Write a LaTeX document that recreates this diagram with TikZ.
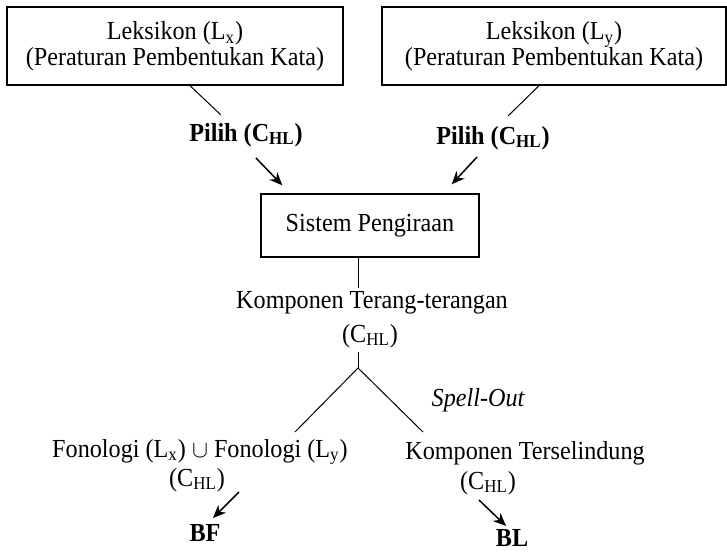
\documentclass[tikz,border=0pt]{standalone}
\usepackage{fontspec}
\setmainfont{Liberation Serif}[FakeStretch=0.93]
\usetikzlibrary{arrows.meta,calc,positioning}

\newcommand{\ukuran}{\fontsize{13}{12.8}\selectfont}
\newcommand{\chl}{(C\textsubscript{HL})}

\begin{document}
\begin{tikzpicture}[x=0.5pt,y=-0.5pt,font=\ukuran,
  kotak/.style={draw,line width=0.7pt,align=center,inner sep=0pt},
  teks/.style={inner sep=0pt,align=center},
  tebal/.style={teks,font=\ukuran\bfseries},
  garis/.style={line width=0.5pt},
  panah/.style={line width=0.75pt,-{Stealth[length=6.5pt,width=5.5pt]}}]
\useasboundingbox (0,0) rectangle (727,556);
\node[kotak,minimum width=168pt,minimum height=39pt] (leksx) at (175,46) {Leksikon (L\textsubscript{x})\\(Peraturan Pembentukan Kata)};
\node[kotak,minimum width=172pt,minimum height=39pt] (leksy) at (554,46) {Leksikon (L\textsubscript{y})\\(Peraturan Pembentukan Kata)};
\node[tebal] (pilihx) at (246,135) {Pilih \chl};
\node[tebal] (pilihy) at (493,138) {Pilih \chl};
\node[kotak,minimum width=109pt,minimum height=31.5pt] (sistem) at (370,225.5) {Sistem Pengiraan};
\node[teks] (terang) at (372,303) {Komponen Terang-terangan};
\node[teks] (chla) at (370,336) {\chl};
\coordinate (cabang) at (358,368);
\node[teks,font=\ukuran\itshape] (spell) at (478,400) {Spell-Out};
\node[teks] (fon) at (200,452) {Fonologi (L\textsubscript{x}) $\cup$ Fonologi (L\textsubscript{y})};
\node[teks] (chlb) at (197,480) {\chl};
\node[tebal] (bf) at (205,533) {BF};
\node[teks] (sembunyi) at (525,453) {Komponen Terselindung};
\node[teks] (chlc) at (488,483) {\chl};
\node[tebal] (bl) at (512,538) {BL};

\draw[garis] ($(leksx.south)+(15,0)$) -- ($(pilihx)+(-25,-20)$);
\draw[garis] ($(leksy.south)+(-15,0)$) -- ($(pilihy)+(15,-22)$);
\draw[panah] ($(pilihx)+(10,23)$) -- ($(sistem.north west)+(22,-8)$);
\draw[panah] ($(pilihy)+(-16,19)$) -- ($(sistem.north east)+(-28,-9)$);
\draw[garis] ($(sistem.south)+(-12,0)$) -- ($(terang)+(-14,-15)$);
\draw[garis] ($(chla)+(-12,16)$) -- (cabang);
\draw[garis] ($(fon)+(95,-20)$) -- (cabang) -- ($(sembunyi)+(-102,-21)$);
\draw[panah] ($(chlb)+(42,12)$) -- ($(bf)+(8,-15)$);
\draw[panah] ($(chlc)+(-9,17)$) -- ($(bl)+(-6,-12)$);
\end{tikzpicture}
\end{document}
